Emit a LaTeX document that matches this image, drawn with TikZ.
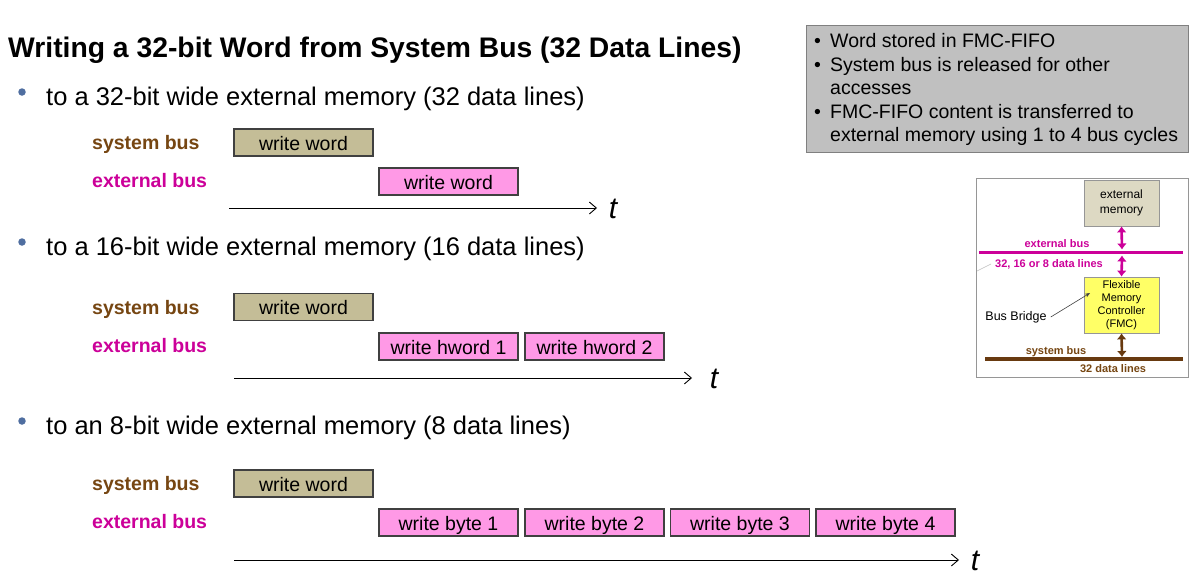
\documentclass[tikz,border=0pt]{standalone}
\usepackage{fontspec}
\setmainfont{Liberation Sans}
\usetikzlibrary{arrows.meta}
\definecolor{sysbrown}{RGB}{118,70,18}
\definecolor{linebrown}{RGB}{104,58,16}
\definecolor{extmag}{RGB}{204,0,153}
\definecolor{pinkfill}{RGB}{255,153,230}
\definecolor{tanfill}{RGB}{196,189,151}
\definecolor{boxborder}{RGB}{64,64,64}
\definecolor{notegray}{RGB}{192,192,192}
\definecolor{noteborder}{RGB}{128,128,128}
\definecolor{memfill}{RGB}{221,217,195}
\definecolor{fmcfill}{RGB}{255,255,102}
\definecolor{bulletblue}{RGB}{79,110,160}
\definecolor{framegray}{RGB}{150,150,150}
\begin{document}
\begin{tikzpicture}[x=1pt,y=-1pt,
  busbox/.style={draw=boxborder, line width=1.2pt, minimum width=139pt, minimum height=27pt,
    inner sep=0pt, text height=16pt, text depth=1pt, font=\fontsize{19.5}{22}\selectfont},
  sysbox/.style={busbox, fill=tanfill},
  extbox/.style={busbox, fill=pinkfill},
  syslabel/.style={anchor=base west, inner sep=0pt, text=sysbrown, font=\fontsize{19.5}{22}\selectfont\bfseries},
  extlabel/.style={anchor=base west, inner sep=0pt, text=extmag, font=\fontsize{19.5}{22}\selectfont\bfseries},
  bullettext/.style={anchor=base west, inner sep=0pt, font=\fontsize{25.5}{28}\selectfont},
  bulletdot/.style={circle, fill=bulletblue, inner sep=0pt, minimum size=7.5pt},
  timeline/.style={line width=0.9pt, -{Straight Barb[length=7pt,width=12pt,line width=0.9pt]}},
  tlabel/.style={anchor=base, inner sep=0pt, font=\fontsize{30}{32}\selectfont\itshape},
  smallbold/.style={inner sep=0pt, font=\fontsize{11}{13}\selectfont\bfseries},
  dblmag/.style={draw=extmag, line width=2.6pt, {Latex[length=6pt,width=10pt]}-{Latex[length=6pt,width=10pt]}},
  dblbrown/.style={draw=linebrown, line width=2.6pt, {Latex[length=6pt,width=10pt]}-{Latex[length=6pt,width=10pt]}}
]
\useasboundingbox (0,0) rectangle (1198,587);
\fill[white] (0,0) rectangle (1198,587);

% title
\node[anchor=base west, inner sep=0pt, font=\fontsize{28.3}{32}\selectfont\bfseries] (title) at (8,57)
  {Writing a 32-bit Word from System Bus (32 Data Lines)};

% ---------- section 1
\node[bulletdot] (d1) at (22,92) {};
\node[bullettext] (b1) at (46,105) {to a 32-bit wide external memory (32 data lines)};
\node[syslabel] (s1) at (92,149) {system bus};
\node[extlabel] (e1) at (92,187) {external bus};
\node[sysbox] (s1w) at (303.5,142.5) {write word};
\node[extbox] (e1w) at (448.5,181.5) {write word};
\coordinate (t1a) at (229,208);
\coordinate (t1b) at (597,208);
\draw[timeline] (t1a) -- (t1b);
\node[tlabel] (t1) at (613,218) {t};

% ---------- section 2
\node[bulletdot] (d2) at (22,242) {};
\node[bullettext] (b2) at (46,255) {to a 16-bit wide external memory (16 data lines)};
\node[syslabel] (s2) at (92,314) {system bus};
\node[extlabel] (e2) at (92,352) {external bus};
\node[sysbox] (s2w) at (303.5,307) {write word};
\node[extbox] (e2a) at (448.5,346.5) {write hword 1};
\node[extbox] (e2b) at (594.5,346.5) {write hword 2};
\coordinate (t2a) at (234,378);
\coordinate (t2b) at (692,378);
\draw[timeline] (t2a) -- (t2b);
\node[tlabel] (t2) at (714,388) {t};

% ---------- section 3
\node[bulletdot] (d3) at (22,421) {};
\node[bullettext] (b3) at (46,434) {to an 8-bit wide external memory (8 data lines)};
\node[syslabel] (s3) at (92,490) {system bus};
\node[extlabel] (e3) at (92,528) {external bus};
\node[sysbox] (s3w) at (303.5,483.5) {write word};
\node[extbox] (e3a) at (448.5,522.5) {write byte 1};
\node[extbox] (e3b) at (594.5,522.5) {write byte 2};
\node[extbox] (e3c) at (740,522.5) {write byte 3};
\node[extbox] (e3d) at (885.5,522.5) {write byte 4};
\coordinate (t3a) at (234,560);
\coordinate (t3b) at (959,560);
\draw[timeline] (t3a) -- (t3b);
\node[tlabel] (t3) at (975,570) {t};

% ---------- notes box
\node[draw=noteborder, fill=notegray, line width=1pt, anchor=north west, minimum width=382pt,
  minimum height=127pt, inner sep=0pt] (notes) at (806,25) {};
\node[anchor=north west, inner sep=0pt, align=left, font=\fontsize{19.5}{23.5}\selectfont] (notestext) at (814,31)
  {\begin{tabular}{@{}l@{}}
   \makebox[16pt][l]{•}Word stored in FMC-FIFO\\
   \makebox[16pt][l]{•}System bus is released for other\\
   \hspace{16pt}accesses\\
   \makebox[16pt][l]{•}FMC-FIFO content is transferred to\\
   \hspace{16pt}external memory using 1 to 4 bus cycles
   \end{tabular}};

% ---------- small block diagram
\node[draw=framegray, line width=0.8pt, anchor=north west, minimum width=212pt, minimum height=199pt,
  inner sep=0pt] (frame) at (976,178) {};
\node[draw=framegray, fill=memfill, line width=0.8pt, minimum width=75pt, minimum height=46pt,
  inner sep=0pt, align=center, font=\fontsize{12}{15}\selectfont] (mem) at (1121.5,203) {external\\memory};
\node[draw=framegray, fill=fmcfill, line width=0.8pt, minimum width=75pt, minimum height=56pt,
  inner sep=0pt, align=center, font=\fontsize{11}{13}\selectfont] (fmc) at (1121.5,305)
  {Flexible\\Memory\\Controller\\(FMC)};
\coordinate (ebl) at (979,252.5);
\coordinate (ebr) at (1183,252.5);
\draw[extmag, line width=3pt] (ebl) -- (ebr);
\coordinate (sbl) at (985,359);
\coordinate (sbr) at (1183,359);
\draw[linebrown, line width=3.5pt] (sbl) -- (sbr);
\node[smallbold, text=extmag] (eblabel) at (1057,244) {external bus};
\node[smallbold, text=extmag] (dl) at (1049,264) {32, 16 or 8 data lines};
\node[smallbold, text=sysbrown] (sblabel) at (1056,352) {system bus};
\node[smallbold, text=sysbrown] (sdl) at (1113,369) {32 data lines};
\coordinate (eb1) at (1122,249.5);
\coordinate (eb2) at (1122,255.5);
\coordinate (sb1) at (1122,357);
\draw[dblmag] (mem.south) -- (eb1);
\draw[dblmag] (eb2) -- (fmc.north);
\draw[dblbrown] (fmc.south) -- (sb1);
\node[inner sep=0pt, font=\fontsize{12.5}{14}\selectfont] (bb) at (1016,317) {Bus Bridge};
\coordinate (bbtip) at (1090,293);
\draw[boxborder, line width=0.6pt, -{Stealth[length=5pt,width=4pt]}] (bb.east) ++(4,0) -- (bbtip);
\coordinate (fa) at (977,271);
\coordinate (fb) at (991,264);
\draw[gray!50, line width=0.6pt] (fa) -- (fb);
\end{tikzpicture}
\end{document}
